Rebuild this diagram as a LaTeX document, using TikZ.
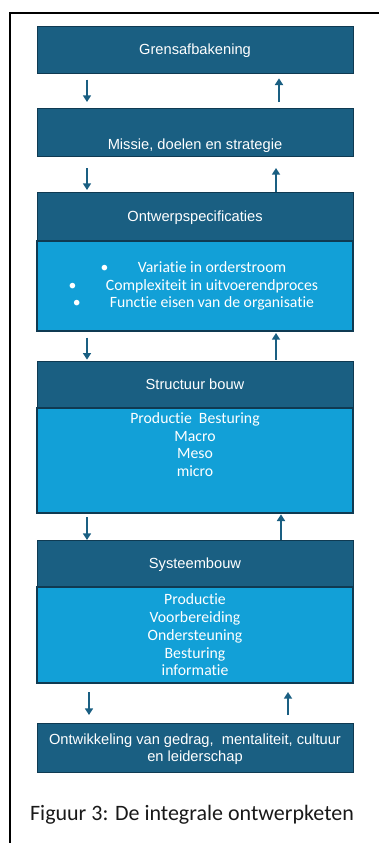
\documentclass[tikz,border=0pt]{standalone}
\usepackage{fontspec}
\setmainfont[Ligatures=NoCommon]{Carlito}
\newfontfamily\headfont{Liberation Sans}
\usetikzlibrary{arrows.meta, positioning}

\definecolor{headblue}{HTML}{1A5F82}
\definecolor{bodyblue}{HTML}{12A0D7}
\definecolor{edgeblue}{HTML}{0F3A52}

\begin{document}
\begin{tikzpicture}[
        x=0.75pt, y=-0.75pt,
        head/.style={rectangle, draw=edgeblue, fill=headblue, line width=0.6pt, minimum width=237pt, inner sep=0pt, outer sep=0pt, text=white, align=center, text depth=0pt, font=\headfont\fontsize{11}{13}\selectfont},
        body/.style={rectangle, draw=edgeblue, fill=bodyblue, line width=1pt, minimum width=237pt, inner sep=0pt, outer sep=0pt, text=white, align=center, font=\fontsize{11.8}{13.3}\selectfont},
        arrow/.style={-{Triangle[length=5pt, width=6pt]}, line width=1.4pt, draw=headblue}
    ]
    \useasboundingbox (0,0) rectangle (379,843);
    \draw [line width=1.6pt] (10,843) -- (10,13) -- (379,13);

    \node (grens) [head, anchor=north west, minimum height=35.25pt] at (37,26) {Grensafbakening};
    \node (missie) [head, anchor=north west, minimum height=36pt] at (37,108) {\raisebox{-12.75pt}[0pt][0pt]{Missie, doelen en strategie}};

    \node (ohead) [head, anchor=north west, minimum height=36.75pt] at (37,192) {Ontwerpspecificaties};
    \node (obody) [body, below=0pt of ohead, minimum height=67.5pt] {%
        \hspace*{25.5pt}\llap{\textbullet\hspace{22pt}}Variatie in orderstroom\\
        \hspace*{25.5pt}\llap{\textbullet\hspace{22pt}}Complexiteit in uitvoerendproces\\
        \hspace*{25.5pt}\llap{\textbullet\hspace{22pt}}Functie eisen van de organisatie};

    \node (shead) [head, anchor=north west, minimum height=35.25pt] at (37,361) {Structuur bouw};
    \node (sbody) [body, below=0pt of shead] {\parbox[c][78.75pt][t]{237pt}{\centering
        \rule{0pt}{11.5pt}Productie\ \ Besturing\\Macro\\Meso\\micro}};

    \node (yhead) [head, anchor=north west, minimum height=35.25pt] at (37,540) {Systeembouw};
    \node (ybody) [body, below=0pt of yhead, minimum height=72pt] {Productie\\Voorbereiding\\Ondersteuning\\Besturing\\informatie};

    \node (ontw) [head, anchor=north west, minimum height=36.75pt, font=\headfont\fontsize{11}{12.75}\selectfont] at (37,723) {Ontwikkeling van gedrag,\ \ mentaliteit, cultuur\\en leiderschap};

    \node (caption) [font=\fontsize{16.5}{18}\selectfont, text=black!90] at (192,815) {Figuur 3: De integrale ontwerpketen};

    % terug en weer tussen de lagen
    \draw [arrow, shorten <=5pt, shorten >=4.5pt] ([xshift=-81pt]grens.south) -- ([xshift=-81pt]missie.north);
    \draw [arrow, shorten <=4.5pt, shorten >=4pt] ([xshift=63pt]missie.north) -- ([xshift=63pt]grens.south);
    \draw [arrow, shorten <=9pt, shorten >=1.5pt] ([xshift=-81pt]missie.south) -- ([xshift=-81pt]ohead.north);
    \draw [arrow, shorten >=9pt] ([xshift=60.75pt]ohead.north) -- ([xshift=60.75pt]missie.south);
    \draw [arrow, shorten <=5pt, shorten >=1pt] ([xshift=-81pt]obody.south) -- ([xshift=-81pt]shead.north);
    \draw [arrow, shorten <=1pt, shorten >=1.5pt] ([xshift=60.75pt]shead.north) -- ([xshift=60.75pt]obody.south);
    \draw [arrow, shorten <=3pt] ([xshift=-81pt]sbody.south) -- ([xshift=-81pt]yhead.north);
    \draw [arrow, shorten >=1pt] ([xshift=64.5pt]yhead.north) -- ([xshift=64.5pt]sbody.south);
    \draw [arrow, shorten <=6.75pt, shorten >=6pt] ([xshift=-79.5pt]ybody.south) -- ([xshift=-79.5pt]ontw.north);
    \draw [arrow, shorten <=6pt, shorten >=6.75pt] ([xshift=69.75pt]ontw.north) -- ([xshift=69.75pt]ybody.south);
\end{tikzpicture}
\end{document}
